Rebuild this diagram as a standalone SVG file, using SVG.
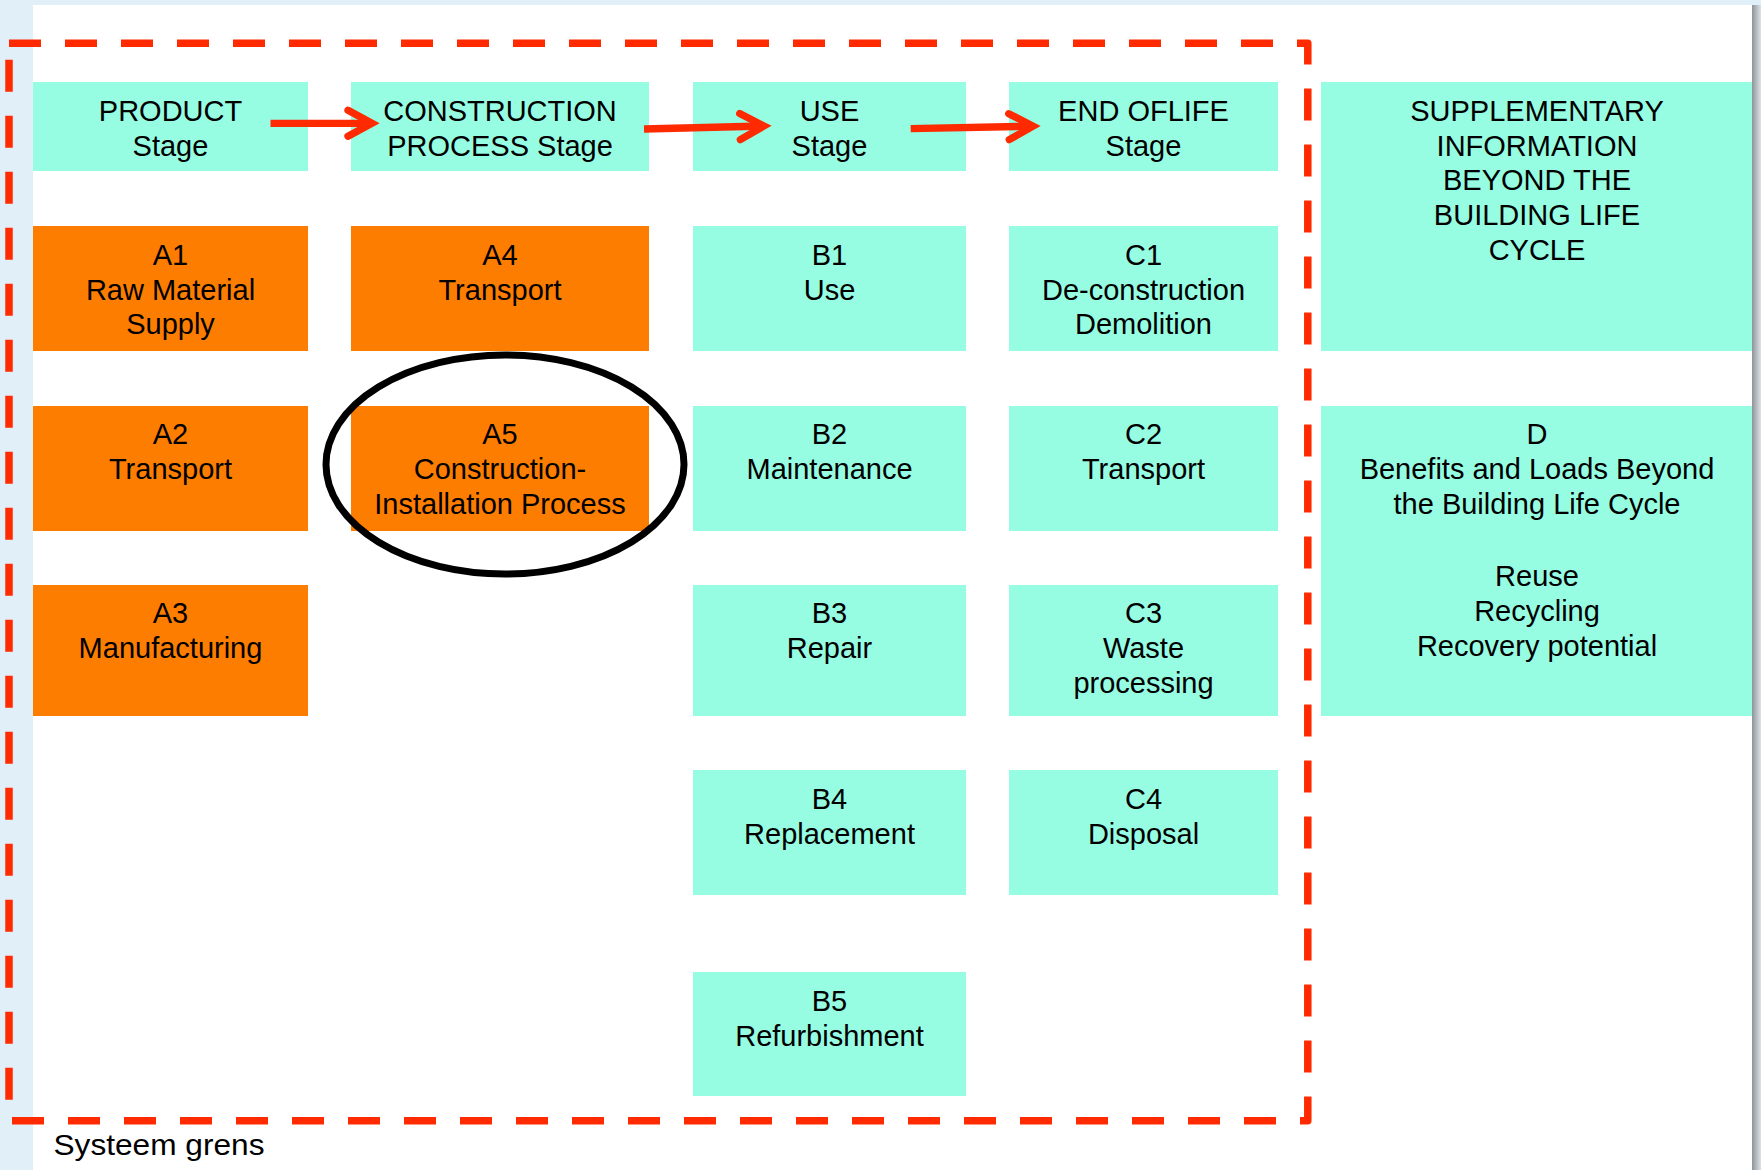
<svg xmlns="http://www.w3.org/2000/svg" width="1761" height="1170" viewBox="0 0 1761 1170">
  <defs>
    <linearGradient id="shadow" x1="0" y1="0" x2="1" y2="0">
      <stop offset="0" stop-color="#8c949a"/>
      <stop offset="1" stop-color="#dfe3e6"/>
    </linearGradient>
    <marker id="chev" markerUnits="userSpaceOnUse" markerWidth="60" markerHeight="60" refX="0" refY="0" orient="auto" overflow="visible">
      <path d="M-24,-13 L0,0 L-24,13" fill="none" stroke="#ff2a00" stroke-width="7.3" stroke-linecap="round" stroke-linejoin="miter"/>
    </marker>
    <style>
      .cy { fill: #96fde3; }
      .or { fill: #fd7d00; }
      .t { font-family: "Liberation Sans", Arial, Helvetica, sans-serif; font-size: 29px; fill: #000; text-anchor: middle; }
      .conn { fill: none; stroke: #ff2a00; stroke-width: 7.3; }
    </style>
  </defs>

  <!-- page background -->
  <rect x="0" y="0" width="1761" height="1170" fill="#ffffff"/>
  <rect x="0" y="0" width="33" height="1170" fill="#e0eff8"/>
  <rect x="0" y="0" width="1761" height="5" fill="#e0eff8"/>
  <rect x="1752" y="5" width="9" height="1165" fill="url(#shadow)"/>

  <!-- system boundary -->
  <path d="M9,43.3 H1307.8 V1120.7 H9 Z" fill="none" stroke="#ff2a00" stroke-width="7.5" stroke-dasharray="32 24" stroke-linejoin="round"/>

  <!-- headers -->
  <g id="product-stage">
    <rect class="cy" x="33" y="82" width="275" height="89"/>
    <text class="t" x="170.5" y="120.7">PRODUCT</text>
    <text class="t" x="170.5" y="155.5">Stage</text>
  </g>
  <g id="construction-stage">
    <rect class="cy" x="351" y="82" width="298" height="89"/>
    <text class="t" x="500" y="120.7">CONSTRUCTION</text>
    <text class="t" x="500" y="155.5">PROCESS Stage</text>
  </g>
  <g id="use-stage">
    <rect class="cy" x="693" y="82" width="273" height="89"/>
    <text class="t" x="829.5" y="120.7">USE</text>
    <text class="t" x="829.5" y="155.5">Stage</text>
  </g>
  <g id="eol-stage">
    <rect class="cy" x="1009" y="82" width="269" height="89"/>
    <text class="t" x="1143.5" y="120.7">END OFLIFE</text>
    <text class="t" x="1143.5" y="155.5">Stage</text>
  </g>
  <g id="supplementary">
    <rect class="cy" x="1321" y="82" width="431" height="269"/>
    <text class="t" x="1537" y="120.7">SUPPLEMENTARY</text>
    <text class="t" x="1537" y="155.5">INFORMATION</text>
    <text class="t" x="1537" y="190.3">BEYOND THE</text>
    <text class="t" x="1537" y="225.1">BUILDING LIFE</text>
    <text class="t" x="1537" y="259.9">CYCLE</text>
  </g>

  <!-- A modules -->
  <g id="A1">
    <rect class="or" x="33" y="226" width="275" height="125"/>
    <text class="t" x="170.5" y="265">A1</text>
    <text class="t" x="170.5" y="299.5">Raw Material</text>
    <text class="t" x="170.5" y="334">Supply</text>
  </g>
  <g id="A2">
    <rect class="or" x="33" y="406" width="275" height="125"/>
    <text class="t" x="170.5" y="444.3">A2</text>
    <text class="t" x="170.5" y="479.3">Transport</text>
  </g>
  <g id="A3">
    <rect class="or" x="33" y="585" width="275" height="131"/>
    <text class="t" x="170.5" y="623.3">A3</text>
    <text class="t" x="170.5" y="658.3">Manufacturing</text>
  </g>
  <g id="A4">
    <rect class="or" x="351" y="226" width="298" height="125"/>
    <text class="t" x="500" y="265">A4</text>
    <text class="t" x="500" y="299.5">Transport</text>
  </g>
  <g id="A5">
    <rect class="or" x="351" y="406" width="298" height="125"/>
    <text class="t" x="500" y="444.3">A5</text>
    <text class="t" x="500" y="479.3">Construction-</text>
    <text class="t" x="500" y="514">Installation Process</text>
  </g>

  <!-- B modules -->
  <g id="B1">
    <rect class="cy" x="693" y="226" width="273" height="125"/>
    <text class="t" x="829.5" y="265">B1</text>
    <text class="t" x="829.5" y="299.5">Use</text>
  </g>
  <g id="B2">
    <rect class="cy" x="693" y="406" width="273" height="125"/>
    <text class="t" x="829.5" y="444.3">B2</text>
    <text class="t" x="829.5" y="479.3">Maintenance</text>
  </g>
  <g id="B3">
    <rect class="cy" x="693" y="585" width="273" height="131"/>
    <text class="t" x="829.5" y="623.3">B3</text>
    <text class="t" x="829.5" y="658.3">Repair</text>
  </g>
  <g id="B4">
    <rect class="cy" x="693" y="770" width="273" height="125"/>
    <text class="t" x="829.5" y="809">B4</text>
    <text class="t" x="829.5" y="844">Replacement</text>
  </g>
  <g id="B5">
    <rect class="cy" x="693" y="972" width="273" height="124"/>
    <text class="t" x="829.5" y="1010.7">B5</text>
    <text class="t" x="829.5" y="1045.7">Refurbishment</text>
  </g>

  <!-- C modules -->
  <g id="C1">
    <rect class="cy" x="1009" y="226" width="269" height="125"/>
    <text class="t" x="1143.5" y="265">C1</text>
    <text class="t" x="1143.5" y="299.5">De-construction</text>
    <text class="t" x="1143.5" y="334">Demolition</text>
  </g>
  <g id="C2">
    <rect class="cy" x="1009" y="406" width="269" height="125"/>
    <text class="t" x="1143.5" y="444.3">C2</text>
    <text class="t" x="1143.5" y="479.3">Transport</text>
  </g>
  <g id="C3">
    <rect class="cy" x="1009" y="585" width="269" height="131"/>
    <text class="t" x="1143.5" y="623.3">C3</text>
    <text class="t" x="1143.5" y="658.3">Waste</text>
    <text class="t" x="1143.5" y="693.3">processing</text>
  </g>
  <g id="C4">
    <rect class="cy" x="1009" y="770" width="269" height="125"/>
    <text class="t" x="1143.5" y="809">C4</text>
    <text class="t" x="1143.5" y="844">Disposal</text>
  </g>

  <!-- D module -->
  <g id="D">
    <rect class="cy" x="1321" y="406" width="431" height="310"/>
    <text class="t" x="1537" y="444.3">D</text>
    <text class="t" x="1537" y="479.3">Benefits and Loads Beyond</text>
    <text class="t" x="1537" y="514">the Building Life Cycle</text>
    <text class="t" x="1537" y="585.7">Reuse</text>
    <text class="t" x="1537" y="620.7">Recycling</text>
    <text class="t" x="1537" y="655.7">Recovery potential</text>
  </g>

  <!-- highlight ellipse around A5 -->
  <g id="highlight">
    <ellipse cx="505" cy="464.5" rx="179" ry="109.5" fill="none" stroke="#000" stroke-width="7"/>
  </g>

  <!-- connectors -->
  <g id="connectors">
    <path class="conn" d="M270.5,123.3 L372,123.3" marker-end="url(#chev)"/>
    <path class="conn" d="M644,129 L764,126" marker-end="url(#chev)"/>
    <path class="conn" d="M910.7,128.7 L1033,126.2" marker-end="url(#chev)"/>
  </g>

  <!-- boundary label -->
  <g id="label">
    <text x="53.5" y="1155" font-family="Liberation Sans, Arial, sans-serif" font-size="29" textLength="211" lengthAdjust="spacingAndGlyphs">Systeem grens</text>
  </g>
</svg>
